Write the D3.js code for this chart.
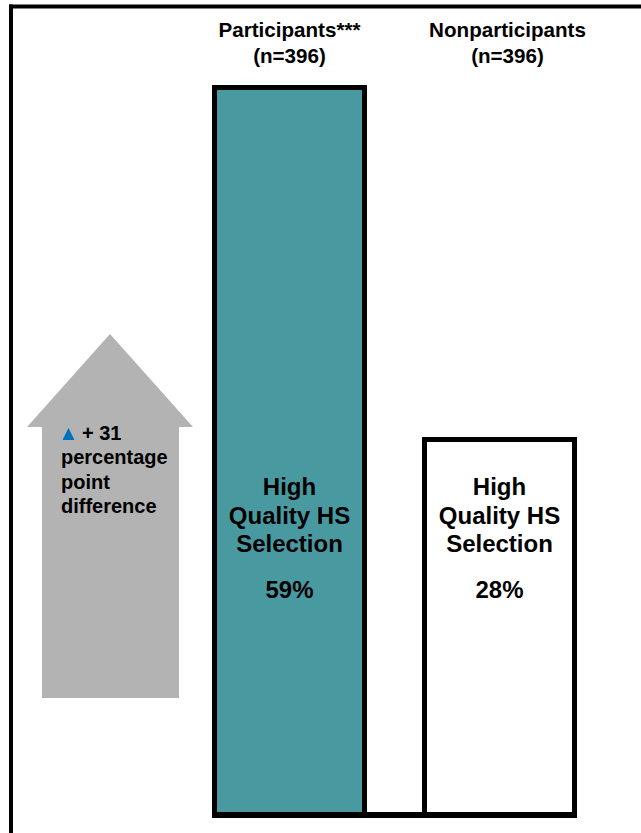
<!DOCTYPE html>
<html>
<head>
<meta charset="utf-8">
<script src="https://cdn.jsdelivr.net/npm/d3@7/dist/d3.min.js"></script>
<style>
  html, body { margin: 0; padding: 0; background: #fff; }
  svg { display: block; }
  text { font-family: Arial, "Liberation Sans", sans-serif; font-weight: bold; fill: #000; }
</style>
</head>
<body>
<svg id="chart" width="641" height="833"></svg>
<script>
// ---- data ----
const categories = ["Participants***", "Nonparticipants"];
const sampleLabels = ["(n=396)", "(n=396)"];
const values = [59, 28];
const barLabelLines = ["High", "Quality HS", "Selection"];
const differenceLines = ["+ 31", "percentage", "point", "difference"];

// ---- layout ----
const W = 641, H = 833;
const svg = d3.select("#chart");
const fills = ["#489AA0", "#FFFFFF"];
const headerOffsets = [0, 8];

const x = d3.scaleBand().domain(categories).range([214.5, 574.5]).paddingInner(60 / 210).paddingOuter(0);
const y = d3.scaleLinear().domain([-5.07, 59]).range([815, 87.5]);

// frame (top + left rules)
svg.append("line").attr("x1", 9).attr("x2", W).attr("y1", 6.5).attr("y2", 6.5)
  .attr("stroke", "#000").attr("stroke-width", 4);
svg.append("line").attr("x1", 11).attr("x2", 11).attr("y1", 4.5).attr("y2", H)
  .attr("stroke", "#000").attr("stroke-width", 4);

// headers
const hdr = svg.append("g");
categories.forEach((c, i) => {
  const cx = x(c) + x.bandwidth() / 2 + headerOffsets[i];
  const t = hdr.append("text").attr("text-anchor", "middle").attr("font-size", 20.6);
  t.append("tspan").attr("x", cx).attr("y", 37).text(c);
  t.append("tspan").attr("x", cx).attr("y", 62.5).text(sampleLabels[i]);
});

// bars
svg.append("g").selectAll("rect").data(categories).join("rect")
  .attr("x", d => x(d))
  .attr("width", x.bandwidth())
  .attr("y", (d, i) => y(values[i]))
  .attr("height", (d, i) => y(-5.07) - y(values[i]))
  .attr("fill", (d, i) => fills[i])
  .attr("stroke", "#000")
  .attr("stroke-width", 5);

// baseline connecting bars
svg.append("line")
  .attr("x1", x(categories[0]) - 2.5)
  .attr("x2", x(categories[1]) + x.bandwidth() + 2.5)
  .attr("y1", y(-5.07)).attr("y2", y(-5.07))
  .attr("stroke", "#000").attr("stroke-width", 6);

// bar labels
categories.forEach((c, i) => {
  const cx = x(c) + x.bandwidth() / 2;
  const t = svg.append("text").attr("text-anchor", "middle").attr("font-size", 24);
  barLabelLines.forEach((l, j) => {
    t.append("tspan").attr("x", cx).attr("y", 495 + j * 28.5).text(l);
  });
  svg.append("text").attr("text-anchor", "middle").attr("font-size", 24)
    .attr("x", cx).attr("y", 598).text(values[i] + "%");
});

// difference arrow
const arrow = [[110, 334], [193, 427], [179, 427], [179, 698], [42, 698], [42, 427], [27, 427]];
svg.append("path").attr("d", d3.line()(arrow) + "Z").attr("fill", "#B3B3B3");

// blue triangle marker
svg.append("path").attr("d", d3.line()([[68.5, 428], [74.5, 440], [62.5, 440]]) + "Z").attr("fill", "#0070C0");

const dt = svg.append("text").attr("font-size", 20);
differenceLines.forEach((l, j) => {
  dt.append("tspan").attr("x", j === 0 ? 82 : 61).attr("y", 440 + j * 24.3).text(l);
});
</script>
</body>
</html>
